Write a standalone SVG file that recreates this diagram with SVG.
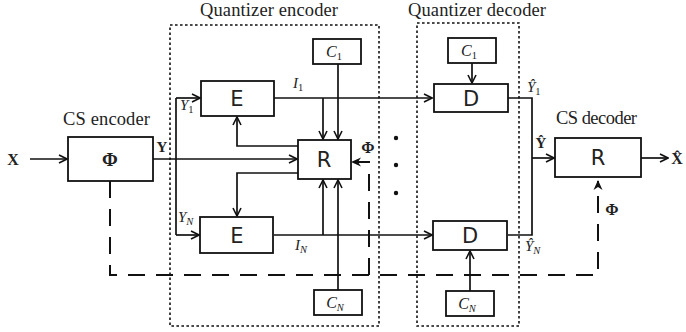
<svg xmlns="http://www.w3.org/2000/svg" width="686" height="332" viewBox="0 0 686 332">
  <style>
    .box { fill: #fff; stroke: #111; stroke-width: 1.8; }
    .frame { fill: none; stroke: #111; stroke-width: 1.6; stroke-dasharray: 2.6 2.4; }
    .wire { fill: none; stroke: #111; stroke-width: 1.7; }
    .dash { fill: none; stroke: #111; stroke-width: 2; stroke-dasharray: 17 11; }
    .serif { font-family: "Liberation Serif", "DejaVu Serif", serif; fill: #222; }
    .sans { font-family: "DejaVu Sans", "Liberation Sans", sans-serif; fill: #222; }
    .title { font-size: 18.5px; }
    .bold { font-weight: bold; }
    .ital { font-style: italic; }
    .blk { font-size: 21px; text-anchor: middle; }
    .sub { font-size: 10.5px; }
    .up { font-style: normal; }
  </style>
  <defs>
    <marker id="open" viewBox="0 0 10 10" refX="9" refY="5" markerWidth="10" markerHeight="10" markerUnits="userSpaceOnUse" orient="auto">
      <path d="M1,1 L9,5 L1,9" fill="none" stroke="#111" stroke-width="1.6"/>
    </marker>
    <marker id="solid" viewBox="0 0 10 10" refX="9" refY="5" markerWidth="10" markerHeight="10" markerUnits="userSpaceOnUse" orient="auto">
      <path d="M0,0.5 L10,5 L0,9.5 L3,5 z" fill="#111"/>
    </marker>
  </defs>

  <!-- enclosing frames of the quantizer stages -->
  <g id="quantizer-encoder-frame">
    <rect class="frame" x="170" y="25" width="209" height="301"/>
    <text class="serif title" x="200" y="16" textLength="138">Quantizer encoder</text>
  </g>
  <g id="quantizer-decoder-frame">
    <rect class="frame" x="417" y="23" width="102" height="303"/>
    <text class="serif title" x="408" y="16" textLength="138">Quantizer decoder</text>
  </g>

  <!-- connectors -->
  <g id="connectors">
    <line class="wire" x1="30" y1="159" x2="67" y2="159" marker-end="url(#open)"/>
    <line class="wire" x1="153" y1="159" x2="297" y2="159" marker-end="url(#open)"/>
    <line class="wire" x1="176" y1="98" x2="176" y2="235"/>
    <line class="wire" x1="176" y1="98" x2="200" y2="98" marker-end="url(#open)"/>
    <line class="wire" x1="176" y1="235" x2="199" y2="235" marker-end="url(#open)"/>
    <line class="wire" x1="274" y1="98" x2="432" y2="98" marker-end="url(#open)"/>
    <line class="wire" x1="323" y1="98" x2="323" y2="139" marker-end="url(#open)"/>
    <line class="wire" x1="338" y1="64" x2="338" y2="139" marker-end="url(#open)"/>
    <polyline class="wire" points="298,146 237,146 237,117" marker-end="url(#open)"/>
    <polyline class="wire" points="298,173 237,173 237,216" marker-end="url(#open)"/>
    <line class="wire" x1="274" y1="235" x2="432" y2="235" marker-end="url(#open)"/>
    <line class="wire" x1="323" y1="235" x2="323" y2="180" marker-end="url(#open)"/>
    <line class="wire" x1="338" y1="290" x2="338" y2="180" marker-end="url(#open)"/>
    <line class="wire" x1="472" y1="63" x2="472" y2="83" marker-end="url(#open)"/>
    <line class="wire" x1="470" y1="291" x2="470" y2="251" marker-end="url(#open)"/>
    <polyline class="wire" points="508,98 532,98 532,235 508,235"/>
    <line class="wire" x1="532" y1="158" x2="554" y2="158" marker-end="url(#open)"/>
    <line class="wire" x1="641" y1="158" x2="668" y2="158" marker-end="url(#open)"/>
    <polyline class="dash" points="110,181 110,275 598,275 598,181" marker-end="url(#solid)"/>
    <polyline class="dash" points="369,275 369,162 352,162" marker-end="url(#solid)"/>
    <circle cx="396" cy="138" r="2.2" fill="#111"/>
    <circle cx="396" cy="165" r="2.2" fill="#111"/>
    <circle cx="396" cy="193" r="2.2" fill="#111"/>
  </g>

  <!-- signal labels -->
  <g id="labels">
    <text class="serif bold" x="13" y="165" font-size="16" text-anchor="middle">X</text>
    <text class="serif bold" x="162" y="152" font-size="15" text-anchor="middle">Y</text>
    <text class="serif ital" x="180" y="110" font-size="15">Y<tspan class="sub up" dy="3">1</tspan></text>
    <text class="serif ital" x="178" y="222" font-size="15">Y<tspan class="sub" dy="3">N</tspan></text>
    <text class="serif ital" x="293" y="88" font-size="15">I<tspan class="sub up" dy="3">1</tspan></text>
    <text class="serif ital" x="295" y="250" font-size="15">I<tspan class="sub" dy="3">N</tspan></text>
    <text class="serif bold" x="368" y="153" font-size="16" text-anchor="middle">Φ</text>
    <text class="serif ital" x="527" y="92" font-size="15">Ŷ<tspan class="sub up" dy="3">1</tspan></text>
    <text class="serif ital" x="525" y="251" font-size="15">Ŷ<tspan class="sub" dy="3">N</tspan></text>
    <text class="serif bold" x="541" y="148" font-size="15" text-anchor="middle">Ŷ</text>
    <text class="serif bold" x="612" y="215" font-size="16" text-anchor="middle">Φ</text>
    <text class="serif bold" x="677" y="164" font-size="16" text-anchor="middle">X̂</text>
  </g>

  <!-- compressive sensing encoder -->
  <g id="cs-encoder">
    <text class="serif title" x="63" y="125" textLength="87">CS encoder</text>
    <rect class="box" x="68" y="137" width="85" height="44"/>
    <text class="serif bold" x="110" y="166" font-size="19" text-anchor="middle">Φ</text>
  </g>

  <!-- quantizer encoder blocks -->
  <g id="enc-codebook-1">
    <rect class="box" x="313" y="39" width="48" height="25"/>
    <text class="serif ital" x="334" y="57" font-size="16" text-anchor="middle">C<tspan class="sub up" dy="3">1</tspan></text>
  </g>
  <g id="enc-E1">
    <rect class="box" x="201" y="81" width="73" height="35"/>
    <text class="sans blk" x="237" y="106">E</text>
  </g>
  <g id="enc-R">
    <rect class="box" x="298" y="140" width="53" height="39"/>
    <text class="sans blk" x="324" y="167">R</text>
  </g>
  <g id="enc-EN">
    <rect class="box" x="200" y="217" width="73" height="36"/>
    <text class="sans blk" x="237" y="243">E</text>
  </g>
  <g id="enc-codebook-N">
    <rect class="box" x="314" y="290" width="48" height="25"/>
    <text class="serif ital" x="335" y="308" font-size="16" text-anchor="middle">C<tspan class="sub" dy="3">N</tspan></text>
  </g>

  <!-- quantizer decoder blocks -->
  <g id="dec-codebook-1">
    <rect class="box" x="448" y="38" width="48" height="25"/>
    <text class="serif ital" x="469" y="56" font-size="16" text-anchor="middle">C<tspan class="sub up" dy="3">1</tspan></text>
  </g>
  <g id="dec-D1">
    <rect class="box" x="434" y="84" width="74" height="28"/>
    <text class="sans blk" x="471" y="106">D</text>
  </g>
  <g id="dec-DN">
    <rect class="box" x="433" y="221" width="74" height="29"/>
    <text class="sans blk" x="470" y="243">D</text>
  </g>
  <g id="dec-codebook-N">
    <rect class="box" x="446" y="291" width="48" height="25"/>
    <text class="serif ital" x="467" y="309" font-size="16" text-anchor="middle">C<tspan class="sub" dy="3">N</tspan></text>
  </g>

  <!-- compressive sensing decoder -->
  <g id="cs-decoder">
    <text class="serif title" x="556" y="124" textLength="81">CS decoder</text>
    <rect class="box" x="555" y="138" width="86" height="39"/>
    <text class="sans blk" x="598" y="165">R</text>
  </g>
</svg>
